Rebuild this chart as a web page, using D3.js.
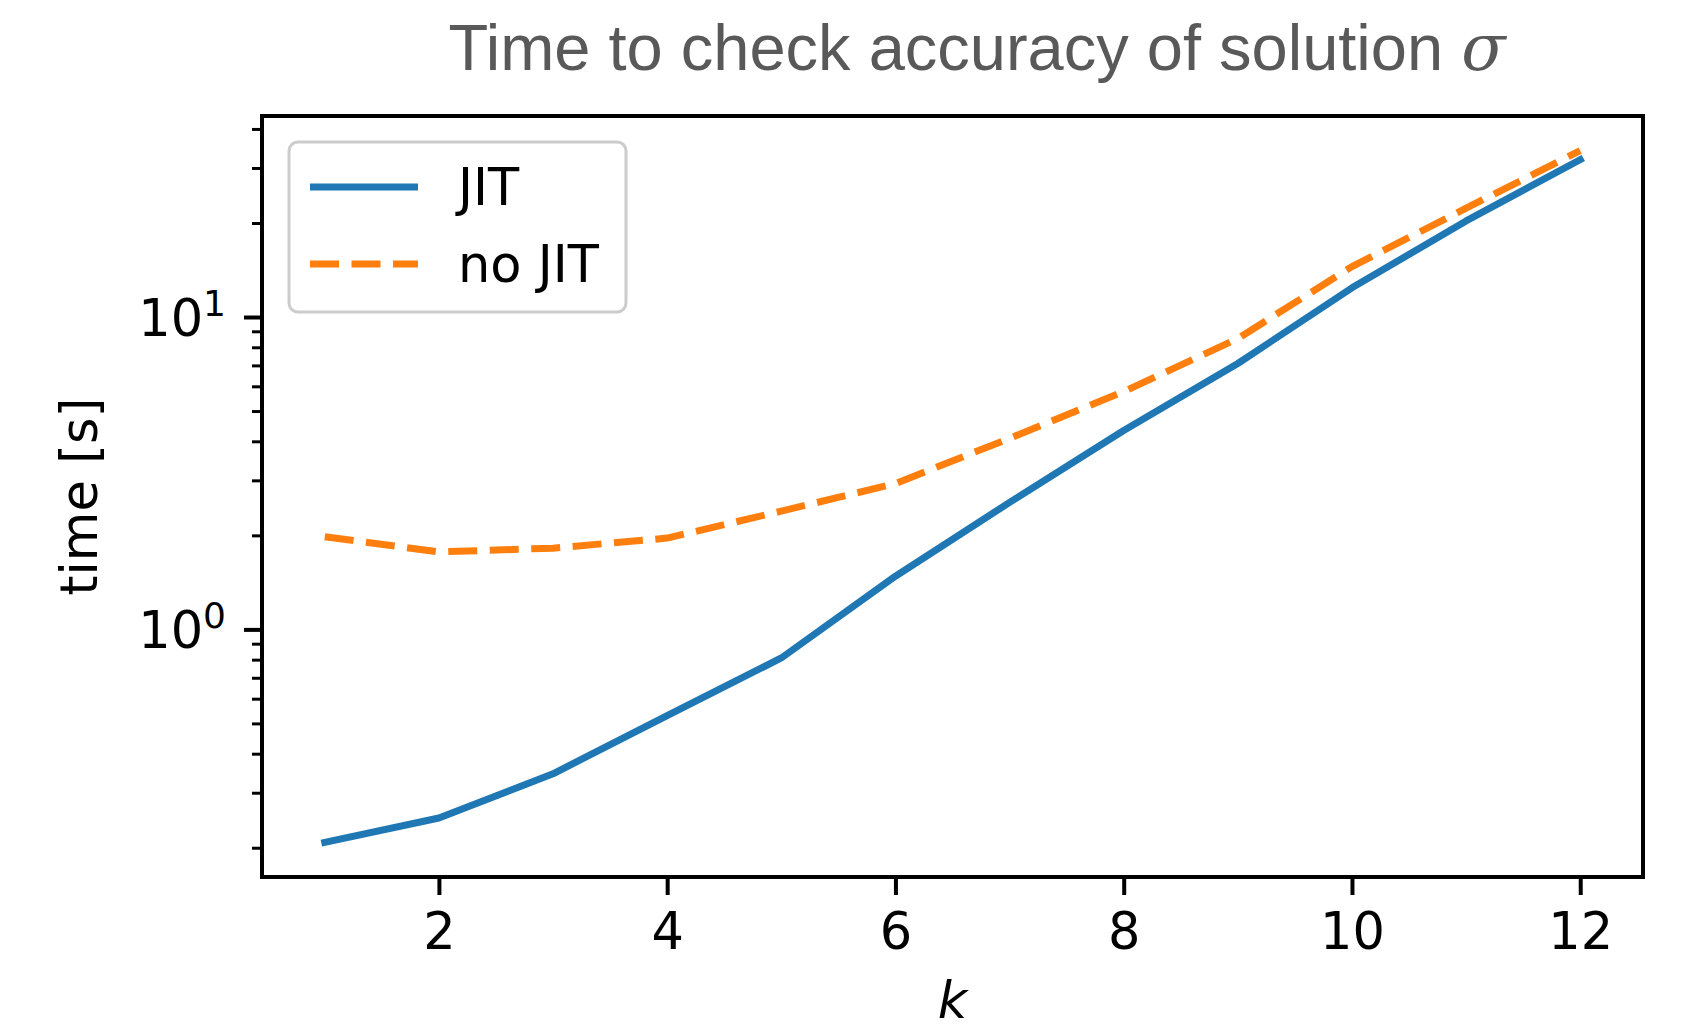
<!DOCTYPE html>
<html><head><meta charset="utf-8">
<script src="https://cdn.jsdelivr.net/npm/d3@7"></script>
<style>body{margin:0;background:#fff}svg{display:block}</style>
</head><body>
<svg id="c" width="1700" height="1024"></svg>
<script>
const kValues = [1,2,3,4,5,6,7,8,9,10,11,12];
const jitTimes = [0.208,0.249,0.345,0.53,0.81,1.48,2.55,4.33,7.1,12.4,20.3,31.9];
const noJitTimes = [1.98,1.77,1.82,1.96,2.39,2.93,4.09,5.77,8.53,14.5,22.3,34.1];
const seriesNames = ["JIT","no JIT"];
const xTicks = [2,4,6,8,10,12];
const yMajor = [1,10];
const yMajorExp = ["0","1"];
const yMinor = [0.2,0.3,0.4,0.5,0.6,0.7,0.8,0.9,2,3,4,5,6,7,8,9,20,30,40];

const svg = d3.select("#c");
const L=262, R=1643, T=116, B=877;
const FONT = "DejaVu Sans";

const xmin=d3.min(kValues), xmax=d3.max(kValues), xm=(xmax-xmin)*0.05;
const x = d3.scaleLinear().domain([xmin-xm, xmax+xm]).range([L,R]);
const all = jitTimes.concat(noJitTimes);
const lmin=Math.log10(d3.min(all)), lmax=Math.log10(d3.max(all)), lm=(lmax-lmin)*0.05;
const y = d3.scaleLog().domain([Math.pow(10,lmin-lm), Math.pow(10,lmax+lm)]).range([B,T]);

// title
svg.append("text").attr("x",977).attr("y",70).attr("text-anchor","middle")
  .attr("font-family","Liberation Sans, Arial, sans-serif").attr("font-size",65).attr("fill","#595959")
  .text("Time to check accuracy of solution ")
  .append("tspan").attr("font-family","DejaVu Serif").attr("font-style","italic").text("σ");

// lines
const line = d3.line().x((d,i)=>x(kValues[i])).y(d=>y(d));
svg.append("path").datum(jitTimes).attr("d",line).attr("fill","none")
  .attr("stroke","#1f77b4").attr("stroke-width",7).attr("stroke-linecap","square").attr("stroke-linejoin","round");
svg.append("path").datum(noJitTimes).attr("d",line).attr("fill","none")
  .attr("stroke","#ff7f0e").attr("stroke-width",7).attr("stroke-dasharray","29,12.5").attr("stroke-linejoin","round");

// axes
const xAxis = d3.axisBottom(x).tickValues(xTicks).tickSize(18).tickPadding(18);
const gx = svg.append("g").attr("transform",`translate(0,${B})`).call(xAxis);
gx.select(".domain").remove();
gx.selectAll(".tick line").attr("stroke","#000").attr("stroke-width",4);
gx.selectAll(".tick text").attr("font-family",FONT).attr("font-size",51).attr("fill","#000");

const gyMin = svg.append("g").attr("transform",`translate(${L},0)`)
  .call(d3.axisLeft(y).tickValues(yMinor).tickSize(10).tickFormat(""));
gyMin.select(".domain").remove();
gyMin.selectAll(".tick line").attr("stroke","#000").attr("stroke-width",3);

const gy = svg.append("g").attr("transform",`translate(${L},0)`)
  .call(d3.axisLeft(y).tickValues(yMajor).tickSize(18).tickFormat(""));
gy.select(".domain").remove();
gy.selectAll(".tick line").attr("stroke","#000").attr("stroke-width",4);
gy.selectAll(".tick").each(function(d,i){
  const t = d3.select(this).append("text").attr("x",-36).attr("y",18)
    .attr("text-anchor","end").attr("font-family",FONT).attr("font-size",51).attr("fill","#000");
  t.append("tspan").text("10");
  t.append("tspan").attr("dy",-20).attr("font-size",36).text(yMajorExp[i]);
});

// spines
svg.append("rect").attr("x",L).attr("y",T).attr("width",R-L).attr("height",B-T)
  .attr("fill","none").attr("stroke","#000").attr("stroke-width",4);

// axis labels
svg.append("text").attr("x",(L+R)/2).attr("y",1018).attr("text-anchor","middle")
  .attr("font-family",FONT).attr("font-style","italic").attr("font-size",51).text("k");
svg.append("text").attr("transform",`translate(97,${(T+B)/2}) rotate(-90)`).attr("text-anchor","middle")
  .attr("font-family",FONT).attr("font-size",51).text("time [s]");

// legend
const lg = svg.append("g");
lg.append("rect").attr("x",289).attr("y",142).attr("width",337).attr("height",170).attr("rx",9)
  .attr("fill","#fff").attr("fill-opacity",0.8).attr("stroke","#cccccc").attr("stroke-width",3);
const legColors=["#1f77b4","#ff7f0e"], legDash=[null,"29,12.5"];
seriesNames.forEach((n,i)=>{
  const yy = 187 + i*77;
  lg.append("line").attr("x1",310).attr("x2",418).attr("y1",yy).attr("y2",yy)
    .attr("stroke",legColors[i]).attr("stroke-width",7).attr("stroke-dasharray",legDash[i]);
  lg.append("text").attr("x",458).attr("y",yy+18).attr("font-family",FONT).attr("font-size",51).text(n);
});
</script>
</body></html>
